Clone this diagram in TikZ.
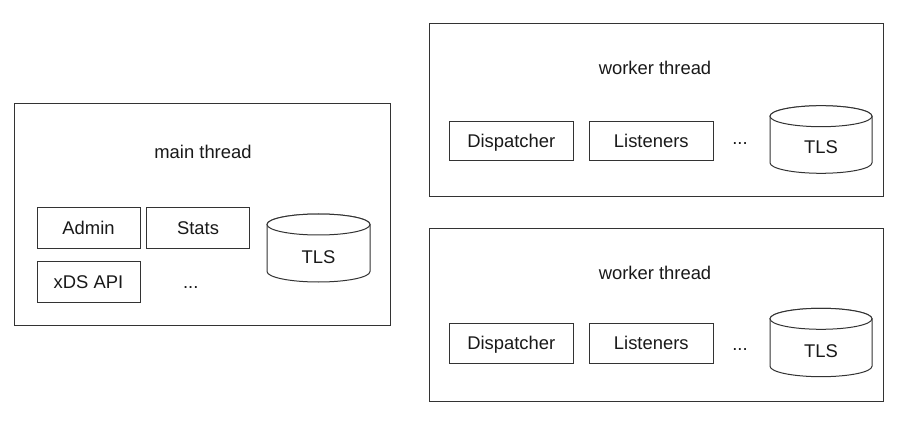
\documentclass[tikz,border=0pt]{standalone}
\usepackage{fontspec}
\setmainfont{Liberation Sans}
\begin{document}
\begin{tikzpicture}[x=0.75pt,y=0.75pt,
  frame/.style={draw=black!80,line width=0.75pt,fill=white},
  item/.style={draw=black!80,line width=0.75pt,fill=white,inner sep=0pt,font=\fontsize{13.8pt}{16pt}\selectfont,text=black!90,text height=9.88pt,text depth=0pt},
  lbl/.style={inner sep=0pt,font=\fontsize{13.8pt}{16pt}\selectfont,text=black!90,text height=9.88pt,text depth=0pt},
  dots/.style={inner sep=0pt,font=\fontsize{13.8pt}{16pt}\selectfont,text=black!90},
  cyl/.style={draw=black!80,line width=0.75pt,fill=white}]
\useasboundingbox (0,0) rectangle (904,422);
% main thread
\node[frame,minimum width=376*0.75pt,minimum height=221*0.75pt,inner sep=0pt] (main) at (202,207.5) {};
\node[lbl] (mainlbl) at (203,270.3) {main thread};
\node[item,minimum width=103*0.75pt,minimum height=41*0.75pt] (admin) at (88.5,194.2) {Admin};
\node[item,minimum width=103*0.75pt,minimum height=41*0.75pt] (stats) at (198,194.2) {Stats};
\node[item,minimum width=103*0.75pt,minimum height=41*0.75pt] (xds) at (88.5,140) {xDS API};
\node[dots,anchor=base] (mdots) at (190.7,134) {...};
\draw[cyl] (267,197.5) -- (267,150.5) arc[start angle=180,end angle=360,x radius=38.625pt,y radius=7.875pt] -- (370,197.5) arc[start angle=0,end angle=180,x radius=38.625pt,y radius=7.875pt] -- cycle;
\draw[cyl] (318.5,197.5) ellipse[x radius=38.625pt,y radius=7.875pt];
\node[lbl] (mtls) at (318.5,165.3) {TLS};
% worker 1
\node[frame,minimum width=454*0.75pt,minimum height=173*0.75pt,inner sep=0pt] (w1) at (656,311.5) {};
\node[lbl] (w1lbl) at (655,353.7) {worker thread};
\node[item,minimum width=124*0.75pt,minimum height=39.3*0.75pt] (disp1) at (511.3,281.3) {Dispatcher};
\node[item,minimum width=124*0.75pt,minimum height=39.3*0.75pt] (lis1) at (651.3,281.3) {Listeners};
\node[dots,anchor=base] (w1dots) at (740,277) {...};
\draw[cyl] (770,305.8) -- (770,259.2) arc[start angle=180,end angle=360,x radius=38.25pt,y radius=7.875pt] -- (872,305.8) arc[start angle=0,end angle=180,x radius=38.25pt,y radius=7.875pt] -- cycle;
\draw[cyl] (821,305.8) ellipse[x radius=38.25pt,y radius=7.875pt];
\node[lbl] (w1tls) at (821,275.3) {TLS};
% worker 2
\node[frame,minimum width=454*0.75pt,minimum height=172.7*0.75pt,inner sep=0pt] (w2) at (656,107.35) {};
\node[lbl] (w2lbl) at (655,149.3) {worker thread};
\node[item,minimum width=124*0.75pt,minimum height=40*0.75pt] (disp2) at (511.3,78.7) {Dispatcher};
\node[item,minimum width=124*0.75pt,minimum height=40*0.75pt] (lis2) at (651.3,78.7) {Listeners};
\node[dots,anchor=base] (w2dots) at (740,72) {...};
\draw[cyl] (770,103.2) -- (770,55.8) arc[start angle=180,end angle=360,x radius=38.25pt,y radius=7.875pt] -- (872,103.2) arc[start angle=0,end angle=180,x radius=38.25pt,y radius=7.875pt] -- cycle;
\draw[cyl] (821,103.2) ellipse[x radius=38.25pt,y radius=7.875pt];
\node[lbl] (w2tls) at (821,71) {TLS};
\end{tikzpicture}
\end{document}
